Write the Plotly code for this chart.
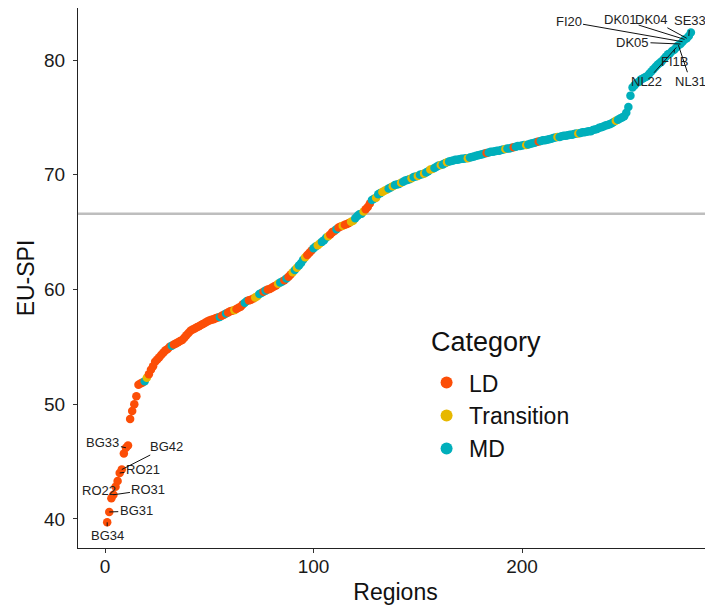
import plotly.graph_objects as go

# ---------------- data ----------------
spi_values = [
    39.7, 40.6, 41.8, 42.1, 42.8, 43.3, 44.0, 44.3, 45.7, 46.2,
    46.4, 48.7, 49.4, 50.0, 50.7, 51.7, 51.8, 51.9, 52.0, 52.3,
    52.6, 53.0, 53.3, 53.7, 53.9, 54.1, 54.3, 54.5, 54.7, 54.8,
    55.0, 55.1, 55.2, 55.3, 55.4, 55.5, 55.6, 55.8, 56.0, 56.2,
    56.4, 56.5, 56.6, 56.7, 56.8, 56.9, 57.0, 57.1, 57.2, 57.3,
    57.35, 57.4, 57.5, 57.55, 57.6, 57.7, 57.8, 57.9, 58.0, 58.1,
    58.15, 58.2, 58.3, 58.4, 58.5, 58.7, 58.85, 59.0, 59.05, 59.1,
    59.2, 59.3, 59.4, 59.6, 59.7, 59.8, 59.9, 60.0, 60.05, 60.15,
    60.25, 60.35, 60.5, 60.6, 60.7, 60.8, 60.95, 61.1, 61.3, 61.5,
    61.7, 61.9, 62.1, 62.3, 62.6, 62.8, 63.0, 63.2, 63.4, 63.6,
    63.75, 63.85, 64.0, 64.15, 64.3, 64.5, 64.65, 64.8, 65.0, 65.1,
    65.25, 65.4, 65.5, 65.55, 65.65, 65.7, 65.8, 65.9, 66.0, 66.2,
    66.4, 66.55, 66.6, 66.8, 67.0, 67.2, 67.5, 67.8, 67.9, 68.0,
    68.3, 68.4, 68.5, 68.6, 68.7, 68.8, 68.9, 69.0, 69.1, 69.15,
    69.2, 69.3, 69.4, 69.5, 69.55, 69.6, 69.7, 69.8, 69.85, 69.9,
    70.0, 70.05, 70.1, 70.2, 70.3, 70.45, 70.5, 70.6, 70.7, 70.8,
    70.85, 70.9, 71.0, 71.1, 71.15, 71.2, 71.25, 71.3, 71.3, 71.35,
    71.4, 71.4, 71.45, 71.45, 71.5, 71.55, 71.6, 71.65, 71.7, 71.75,
    71.8, 71.85, 71.9, 71.95, 72.0, 72.0, 72.05, 72.1, 72.1, 72.15,
    72.2, 72.25, 72.3, 72.3, 72.35, 72.4, 72.45, 72.5, 72.5, 72.55,
    72.6, 72.6, 72.65, 72.7, 72.75, 72.8, 72.85, 72.9, 72.95, 73.0,
    73.0, 73.05, 73.1, 73.15, 73.2, 73.25, 73.3, 73.3, 73.35, 73.4,
    73.4, 73.45, 73.5, 73.5, 73.55, 73.6, 73.6, 73.65, 73.7, 73.7,
    73.75, 73.8, 73.8, 73.9, 73.95, 74.0, 74.1, 74.15, 74.2, 74.3,
    74.35, 74.4, 74.5, 74.6, 74.7, 74.8, 74.9, 75.0, 75.1, 75.4,
    75.9, 76.9, 77.6, 77.8, 78.0, 78.1, 78.3, 78.4, 78.5, 78.6,
    78.8, 79.0, 79.2, 79.4, 79.6, 79.75, 79.9, 80.1, 80.3, 80.5,
    80.6, 80.8, 80.9, 81.1, 81.3, 81.4, 81.6, 81.8, 81.9, 82.1,
    82.4,
]

# L = LD, T = Transition, M = MD (one letter per region, in rank order)
category_codes = (
    "LLLLLLLLLLL"
    "LLLLLLLMTL" "LLLLLLLLLL" "MLLLLLLLLL" "LLLLLLLLLL" "LLLMLLMLLL"
    "TLLLLMMLLL" "TTMMLMLLLL" "LTMMLMLLTM" "TMMMTLLLMM" "TTMMMTLLLM"
    "LLTLLLTTMM" "MMTLLLMMTM" "MTTTMMTMMM" "TMMMMTMMTM" "MTMMTTMMMT"
    "MMTMMMMMMM" "MMTMMMMMMM" "MLMMMMMMMM" "TMMMLMMMMM" "TMMMMMLMMM"
    "MMMMMTMMMM" "MMMMMTMMMM" "MMMMMMMMMM" "MMMTMMMMMM" "MMMMMMMMMM"
    "MMMMMMMMMM" "MMMMMMMMMM"
)

category_names = ["LD", "Transition", "MD"]
code_to_name = {"L": "LD", "T": "Transition", "M": "MD"}

label_names = ["BG34", "BG31", "RO22", "RO31", "RO21", "BG42", "BG33",
               "FI1B", "NL22", "NL31", "DK05", "FI20", "DK01", "DK04", "SE33"]
label_ranks = [1, 2, 3, 4, 7, 8, 10, 273, 274, 275, 276, 277, 278, 279, 280]

eu_average = 66.6

# ---------------- styles ----------------
colors = {"LD": "#FC4E07", "Transition": "#E7B800", "MD": "#00AFBB"}
label_offsets = {
    "BG34": (0, 13), "BG31": (27, -1), "RO22": (-12, -8), "RO31": (35, -5),
    "RO21": (23, -3), "BG42": (45, -23), "BG33": (-23, -5),
    "FI1B": (0, 12), "NL22": (-30, 34), "NL31": (12, 36), "DK05": (-48, -2),
    "FI20": (-114, -20), "DK01": (-64, -20), "DK04": (-35, -19), "SE33": (1, -15),
}
FONT = "Liberation Sans, Arial, sans-serif"

n = len(spi_values)
ranks = list(range(1, n + 1))
cats = [code_to_name[c] for c in category_codes[:n]]
point_colors = [colors[c] for c in cats]

fig = go.Figure()
fig.add_trace(go.Scatter(
    x=ranks, y=spi_values, mode="markers",
    marker=dict(color=point_colors, size=8.5, line=dict(width=0)),
    showlegend=False, hoverinfo="x+y",
))
for name in category_names:
    fig.add_trace(go.Scatter(
        x=[None], y=[None], mode="markers", name=name,
        marker=dict(color=colors[name], size=10),
    ))

fig.add_shape(type="line", xref="paper", x0=0, x1=1, yref="y",
              y0=eu_average, y1=eu_average,
              line=dict(color="#BEBEBE", width=2.5), layer="below")

for name, r in zip(label_names, label_ranks):
    ax, ay = label_offsets[name]
    fig.add_annotation(
        x=r, y=spi_values[r - 1], text=name, showarrow=True,
        arrowhead=0, arrowwidth=1, arrowcolor="#111111",
        ax=ax, ay=ay, standoff=0, startstandoff=1,
        font=dict(family=FONT, size=13, color="#222222"),
        borderpad=0,
    )

# legend title
fig.add_annotation(
    xref="paper", yref="paper", x=0.553, y=0.3815, xanchor="left", yanchor="middle",
    text="Category", showarrow=False, font=dict(family=FONT, size=27, color="#111111"),
)

# the page body adds an 8px margin, so the figure is 8px smaller and margins shifted
fig.update_layout(
    width=705, height=600,
    margin=dict(l=70, r=0, t=0, b=60, autoexpand=False),
    paper_bgcolor="white", plot_bgcolor="white",
    font=dict(family=FONT, color="#111111"),
    xaxis=dict(
        range=[-13, 291.6], tickvals=[0, 100, 200], automargin=False,
        showline=True, linecolor="#222222", linewidth=1.2,
        ticks="outside", ticklen=4, tickcolor="#333333",
        showgrid=False, zeroline=False, ticklabelstandoff=-3,
        tickfont=dict(size=19, color="#1a1a1a"),
        title=dict(text="Regions", font=dict(size=23, color="#111111"), standoff=7),
    ),
    yaxis=dict(
        range=[37.46, 84.54], tickvals=[40, 50, 60, 70, 80], automargin=False,
        showline=True, linecolor="#222222", linewidth=1.2,
        ticks="outside", ticklen=4, tickcolor="#333333",
        showgrid=False, zeroline=False, ticklabelstandoff=4,
        tickfont=dict(size=19, color="#1a1a1a"),
        title=dict(text="EU-SPI", font=dict(size=23, color="#111111"), standoff=2),
    ),
    legend=dict(
        x=0.545, y=0.346, xanchor="left", yanchor="top",
        bgcolor="rgba(0,0,0,0)",
        font=dict(size=23, color="#111111"),
        itemsizing="constant", itemwidth=35, tracegroupgap=4,
    ),
)

fig.write_html("out.html")
